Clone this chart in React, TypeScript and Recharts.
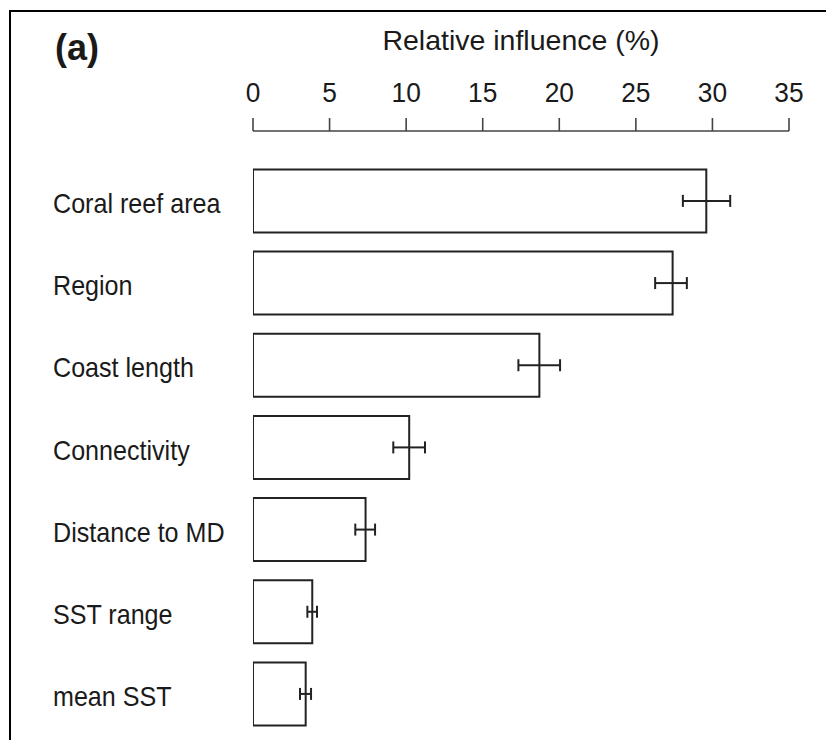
import React from 'react';
import { BarChart, Bar, XAxis, YAxis, ErrorBar } from 'recharts';

const categories = ['Coral reef area', 'Region', 'Coast length', 'Connectivity', 'Distance to MD', 'SST range', 'mean SST'];
const influence = [29.6, 27.4, 18.7, 10.2, 7.35, 3.87, 3.44];
const lowerBound = [28.07, 26.26, 17.33, 9.16, 6.68, 3.55, 3.07];
const upperBound = [31.16, 28.33, 20.05, 11.23, 7.97, 4.18, 3.79];
const xTicks = [0, 5, 10, 15, 20, 25, 30, 35];

const data = categories.map((name, i) => ({
  name,
  value: influence[i],
  err: [influence[i] - lowerBound[i], upperBound[i] - influence[i]],
}));

const FONT = '"Liberation Sans", Arial, Helvetica, sans-serif';
const INK = '#1a1a1a';

const XTick = (props: any) => {
  const { x, y, payload } = props;
  return (
    <text
      transform={`translate(${x},${y}) scale(0.94,1)`}
      textAnchor="middle"
      fontFamily={FONT}
      fontSize={28}
      fill={INK}
    >
      {payload.value}
    </text>
  );
};

const YTick = (props: any) => {
  const { y, payload } = props;
  return (
    <text
      transform={`translate(53,${y + 12.5}) scale(0.93,1)`}
      textAnchor="start"
      fontFamily={FONT}
      fontSize={27}
      fill={INK}
    >
      {payload.value}
    </text>
  );
};

export default function App() {
  return (
    <div style={{ position: 'relative', width: 826, height: 740, background: '#fff', overflow: 'hidden' }}>
      <style>{`body{margin:0;overflow:hidden;background:#fff}`}</style>
      <div
        style={{
          position: 'absolute',
          left: 8.5,
          top: 9.5,
          width: 830,
          height: 740,
          borderTop: '2.5px solid #000',
          borderLeft: '2.5px solid #000',
          boxSizing: 'border-box',
        }}
      />
      <div style={{ position: 'absolute', left: 0, top: 0 }}>
        <BarChart
          width={826}
          height={740}
          data={data}
          layout="vertical"
          margin={{ top: 71, right: 37, bottom: 5.4, left: 53 }}
        >
          <text x={521} y={49.5} textAnchor="middle" fontFamily={FONT} fontSize={28.5} fill={INK}>
            Relative influence (%)
          </text>
          <text x={55} y={59.5} textAnchor="start" fontFamily={FONT} fontSize={36} fontWeight="bold" fill={INK}>
            (a)
          </text>
          <XAxis
            type="number"
            orientation="top"
            domain={[0, 35]}
            ticks={xTicks}
            interval={0}
            height={60}
            stroke="#444"
            strokeWidth={1.6}
            tickSize={13}
            tickMargin={16.3}
            tick={<XTick />}
            allowDataOverflow
          />
          <YAxis
            type="category"
            dataKey="name"
            width={200}
            axisLine={false}
            tickLine={false}
            padding={{ top: 28.4, bottom: 0 }}
            tick={<YTick />}
            interval={0}
          />
          <Bar dataKey="value" fill="#fff" stroke="#222" strokeWidth={2} barSize={63} isAnimationActive={false}>
            <ErrorBar dataKey="err" direction="x" width={6} stroke="#222" strokeWidth={2} isAnimationActive={false} />
          </Bar>
        </BarChart>
      </div>
    </div>
  );
}
